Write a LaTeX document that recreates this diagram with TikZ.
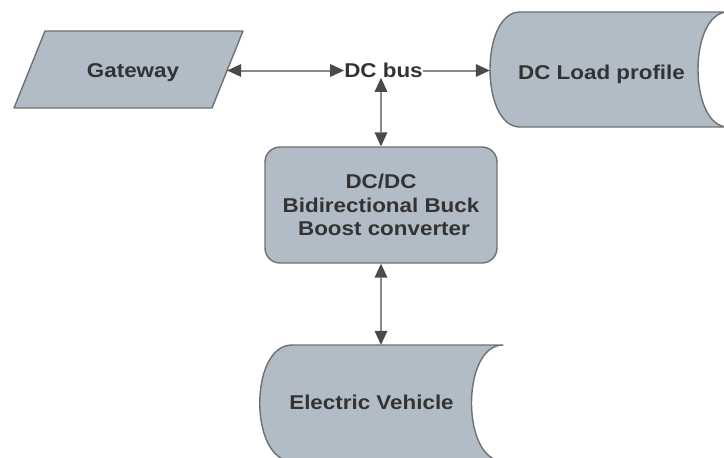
\documentclass[tikz,border=0pt]{standalone}
\usepackage{fontspec}
\newfontfamily\lblfont{Liberation Sans}[FakeStretch=1.12]
\usetikzlibrary{arrows.meta,calc}

\definecolor{boxfill}{HTML}{B2BCC6}
\definecolor{boxline}{HTML}{707070}
\definecolor{txtcol}{HTML}{333333}
\definecolor{wirecol}{HTML}{8A8A8A}
\definecolor{tipcol}{HTML}{4A4A4A}

\tikzset{
  shapebox/.style={draw=boxline, fill=boxfill, line width=1.4pt, line join=round},
  lbl/.style={inner sep=0pt, text=txtcol,
    font=\lblfont\bfseries\fontsize{20pt}{24pt}\selectfont,
    text height=14.3pt, text depth=0pt},
  wire/.style={draw=wirecol, line width=2pt},
  headtip/.tip={Triangle[length=14pt,width=13pt,line width=0pt,color=tipcol,fill=tipcol]},
  twoway/.style={wire, arrows={headtip-headtip}},
  oneway/.style={wire, arrows={-headtip}},
}

\begin{document}
\begin{tikzpicture}[x=1pt,y=-1pt]
  \useasboundingbox (0,0) rectangle (724,458);

  % outlines of the gateway and the two storage-type blocks
  \draw[shapebox] (45,31) -- (243,31) -- (212,108) -- (14,108) -- cycle;
  \draw[shapebox] (520,12) -- (728,12) .. controls (688,12) and (688,127) .. (728,127)
     -- (520,127) .. controls (480,127) and (480,12) .. (520,12) -- cycle;
  \draw[shapebox] (292,345) -- (503,345) .. controls (461,345) and (461,461) .. (503,461)
     -- (292,461) .. controls (249,461) and (249,345) .. (292,345) -- cycle;

  % labels
  \node[lbl, minimum width=188pt] (gw) at (133,70.5) {Gateway};
  \node[lbl] (bus) at (383.5,70.5) {DC bus};
  \node[lbl, minimum width=223pt] (load) at (601.5,72) {DC Load profile};
  \node[lbl, minimum height=115pt] (ev) at (371.5,402.5) {Electric Vehicle};
  \node[shapebox, rounded corners=15pt, minimum width=232pt, minimum height=116pt,
        inner sep=0pt, text=txtcol, align=center,
        font=\lblfont\bfseries\fontsize{20pt}{23.5pt}\selectfont]
        (conv) at (381,205) {DC/DC\\Bidirectional Buck\\\hspace*{6pt}Boost converter};

  % connectors
  \draw[twoway] (gw.east) -- (bus.west);
  \draw[oneway] (bus.east) -- (bus.east -| load.west);
  \draw[twoway] (conv.north) -- (conv.north |- bus.south);
  \draw[twoway] (conv.south) -- (conv.south |- ev.north);
\end{tikzpicture}
\end{document}
